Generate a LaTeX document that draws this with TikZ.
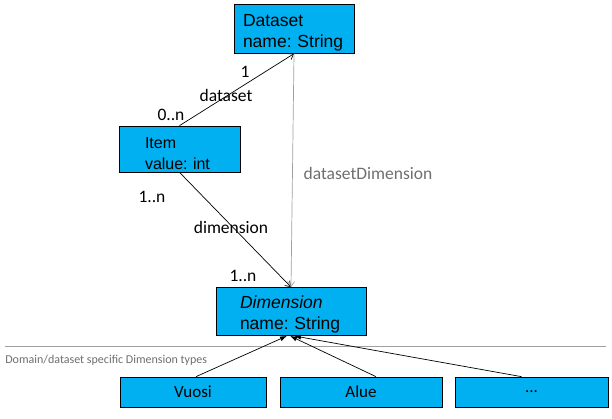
\documentclass[tikz,border=0pt]{standalone}
\usepackage{fontspec}
\setmainfont{Carlito}
\newfontfamily\boxfont{Liberation Sans}
\usetikzlibrary{arrows.meta}
\definecolor{boxblue}{RGB}{0,176,240}
\definecolor{linegray}{RGB}{160,160,160}
\definecolor{textgray}{RGB}{110,110,110}
\frenchspacing
\newcommand{\topgap}[1]{\rule{0pt}{#1}}

\begin{document}
\begin{tikzpicture}[x=1pt, y=-1pt, line width=0.7pt,
    umlbox/.style={draw, rectangle, fill=boxblue, align=left, inner ysep=2pt, font=\boxfont\fontsize{17.5}{21}\selectfont},
    typebox/.style={draw, rectangle, fill=boxblue, minimum height=30pt, font=\fontsize{17}{20}\selectfont},
    lbl/.style={font=\fontsize{17.5}{20}\selectfont, inner sep=1pt},
    assoc/.style={->, >={Straight Barb[length=5pt,width=7pt]}},
    inherit/.style={-{Latex[length=7pt,width=5pt]}}]
            \useasboundingbox (0,0) rectangle (612,419);
            % Nodes
            \node[umlbox, minimum width=120pt, minimum height=48pt, inner xsep=9pt, text width=102pt] (dataset) at (294,29) {\topgap{20pt}Dataset\\name: String};
            \node[umlbox, minimum width=121pt, minimum height=46pt, inner xsep=26pt, text width=69pt, font=\boxfont\fontsize{16}{21}\selectfont] (item) at (179.5,149) {\topgap{19.5pt}Item\\value: int};
            \node[umlbox, minimum width=150pt, minimum height=47pt, inner xsep=24pt, text width=102pt] (dimension) at (291,311.5) {\topgap{19.5pt}\textit{Dimension}\\name: String};
            \node[typebox, minimum width=146pt] (vuosi) at (193,392) {Vuosi};
            \node[typebox, minimum width=162pt] (alue) at (361,392) {Alue};
            \node[typebox, minimum width=153pt] (other) at (531.5,392) {...};
            % Separator
            \draw[linegray] (5,346) -- (606,346);
            \node[anchor=west, text=textgray, font=\fontsize{12}{14}\selectfont, inner sep=0pt] (domain) at (5,360) {Domain/dataset specific Dimension types};
            % Arrows
            \draw[assoc] (item.north) -- (dataset.south);
            \draw[assoc] (item.south) -- (dimension.north);
            \draw[assoc, linegray] (dataset.south) -- (dimension.north);
            \draw[inherit] ([xshift=3pt]vuosi.north) -- ([xshift=-4pt]dimension.south);
            \draw[inherit] ([xshift=15pt]alue.north) -- ([xshift=-1pt]dimension.south);
            \draw[inherit] ([xshift=-10pt]other.north) -- ([xshift=3pt]dimension.south);
            % Labels
            \node[lbl] (dsmax) at (245,72) {1};
            \node[lbl] (dsname) at (226,95) {dataset};
            \node[lbl] (dsmin) at (171,115) {0..n};
            \node[lbl] (dimmin) at (152,197) {1..n};
            \node[lbl] (dimname) at (231,227) {dimension};
            \node[lbl] (dimmax) at (243,276) {1..n};
            \node[lbl, text=textgray] (dsdim) at (368,173) {datasetDimension};
        \end{tikzpicture}
\end{document}
